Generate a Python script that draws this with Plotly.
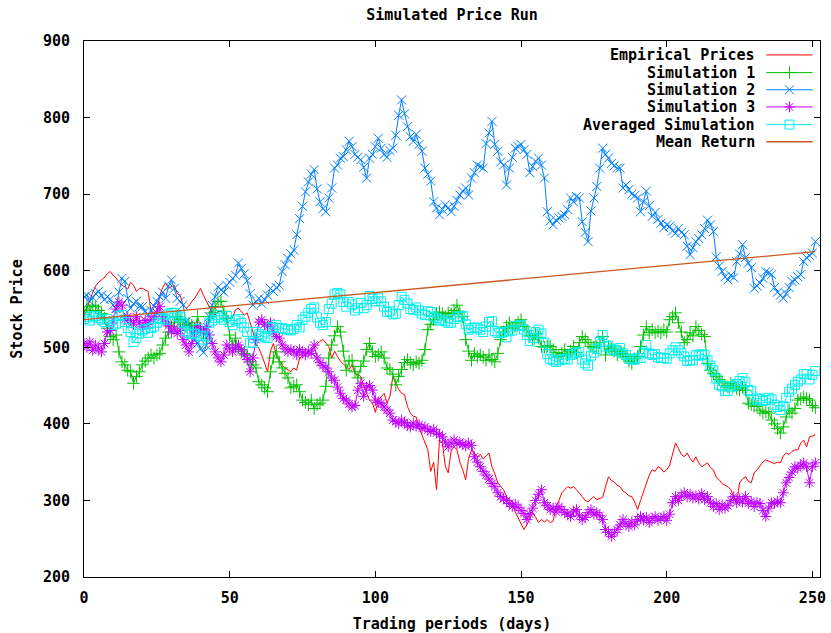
import plotly.graph_objects as go

days = list(range(252))

empirical = [540,551,560,572,580,585,588,591,596,599,594,591,585,581,579,576,585,581,573,577,
577,575,573,547,545,547,568,578,584,577,579,581,570,568,555,551,554,560,564,570,
577,568,560,551,545,542,547,547,544,542,538,540,549,551,546,542,545,533,520,503,
499,490,478,468,495,505,490,483,477,473,471,468,473,470,486,488,490,495,497,499,
504,508,510,505,501,486,495,488,482,478,475,471,477,466,464,462,449,440,431,427,
415,431,436,440,427,436,462,453,445,440,438,423,414,410,409,395,385,375,366,338,
350,314,379,375,345,336,365,370,366,350,340,327,355,366,362,357,360,354,358,362,
344,335,323,318,314,305,301,297,285,278,270,262,268,275,284,278,271,275,272,275,
271,273,292,300,310,314,318,316,318,314,310,305,300,298,302,305,301,303,304,318,
331,326,324,320,318,312,310,306,305,298,288,300,312,324,333,340,338,344,342,337,
340,346,360,375,368,360,357,362,355,350,357,349,344,346,349,343,340,330,327,322,
320,318,314,305,297,323,328,331,325,323,336,340,345,350,353,351,349,348,350,349,
358,362,360,364,366,366,375,379,370,383,384,386]

sim1 = [545,553,548,555,553,548,544,538,525,514,510,516,494,481,477,470,468,453,462,468,
477,482,486,490,486,490,492,503,512,520,527,532,540,536,530,527,532,529,525,540,
525,518,512,540,545,553,560,560,547,538,516,503,512,499,495,492,490,481,477,473,
455,451,447,442,468,486,494,481,473,466,460,447,449,451,442,431,428,425,431,420,
425,427,431,449,486,503,515,527,520,495,470,482,483,468,460,475,482,497,505,494,
488,490,494,486,473,471,465,451,462,471,480,484,480,477,481,479,483,497,523,530,
536,544,546,544,540,545,544,548,555,546,540,510,495,483,492,488,490,487,483,490,
484,481,492,510,520,527,532,525,528,532,536,527,522,515,510,518,513,501,500,502,
501,497,493,488,492,497,490,495,501,493,506,514,510,506,501,500,501,506,514,490,
501,498,495,490,495,492,488,482,479,485,488,501,516,527,519,523,519,521,519,523,
520,536,540,545,532,520,506,510,519,515,527,522,517,514,479,470,466,462,458,455,
450,448,453,450,446,444,448,444,427,425,423,423,418,414,416,414,405,400,394,388,
396,409,418,414,420,431,433,435,433,431,424,421]

sim2 = [566,568,560,565,570,573,568,562,566,563,555,551,572,590,586,564,551,557,560,553,
553,547,542,548,554,560,566,572,564,580,588,577,564,560,555,533,529,518,510,505,
498,493,502,540,555,566,579,575,572,581,585,590,594,610,603,596,587,570,555,560,
564,557,562,568,577,573,578,581,599,608,616,622,627,647,668,684,703,716,726,732,
707,690,681,677,695,708,734,738,747,749,758,769,762,752,748,745,735,721,747,752,
762,773,760,752,748,757,760,777,803,823,805,788,775,769,778,765,756,734,726,717,
690,682,673,680,686,682,677,684,692,699,704,708,699,721,728,738,736,734,766,780,
795,765,756,742,738,712,734,748,760,762,765,758,752,728,736,743,747,738,721,677,
665,660,666,669,671,673,680,695,690,697,695,664,650,638,678,695,710,734,760,752,
747,740,737,734,734,708,712,706,700,698,695,677,690,704,685,671,676,667,662,656,
660,658,652,649,655,650,647,632,621,630,638,642,647,655,666,660,651,618,606,599,
592,588,594,591,612,622,634,617,610,604,577,580,584,590,599,597,595,578,572,568,
564,570,578,586,588,592,595,612,617,620,623,638]

sim3 = [505,500,507,496,503,498,494,505,520,522,535,550,559,555,536,540,535,530,540,532,
527,535,530,536,540,545,553,540,533,528,520,525,518,522,510,503,494,505,520,527,
523,520,527,516,505,494,486,481,490,503,498,494,500,503,497,490,484,468,486,510,
533,536,530,527,532,520,514,512,503,498,494,497,495,490,497,493,490,495,492,503,
486,480,476,473,468,460,457,448,440,433,431,426,422,424,444,453,436,448,450,444,
431,428,427,422,418,414,405,403,400,405,402,398,396,401,397,399,394,396,392,390,
393,388,386,383,376,370,375,379,374,376,373,371,375,372,357,350,344,338,333,328,
322,318,310,305,302,300,296,292,295,291,287,283,275,282,290,300,308,314,297,293,
288,290,285,292,288,284,282,279,286,288,280,275,278,284,288,282,284,280,275,262,
258,253,258,262,268,275,270,266,272,268,275,279,274,278,271,276,279,274,277,279,
274,282,297,305,300,306,310,305,308,303,306,302,309,301,305,297,292,296,288,294,
290,293,300,305,297,302,298,305,296,299,292,297,296,287,279,290,297,296,299,297,
310,323,330,337,344,342,346,349,344,323,344,349]

averaged = [537,540,535,539,541,538,536,533,537,533,529,531,541,542,533,525,520,507,512,518,
522,524,519,525,527,532,537,538,536,543,545,545,541,539,532,521,518,517,518,524,
515,510,514,532,535,538,542,539,536,541,533,529,535,537,532,526,520,506,506,520,
517,515,513,512,526,526,529,525,525,524,523,522,524,529,526,536,540,545,550,552,
539,532,529,533,550,557,569,571,569,559,553,559,556,548,551,558,551,555,567,563,
560,564,560,553,546,547,543,544,555,566,562,557,550,549,552,548,544,542,547,546,
540,538,535,536,534,532,532,537,540,540,541,530,523,525,526,525,523,520,527,533,
534,521,519,519,520,513,521,522,528,528,529,523,516,508,512,520,523,518,506,491,
485,483,481,483,484,485,484,490,492,493,494,484,479,476,489,493,498,507,516,501,
502,497,497,495,499,492,490,485,484,484,486,486,493,503,492,490,491,487,486,486,
485,492,496,500,496,492,488,482,483,483,490,489,491,490,483,476,470,459,451,449,
443,443,449,449,452,456,460,455,444,443,431,433,433,430,431,434,432,425,422,418,
423,434,442,446,451,455,458,465,465,458,464,469]

mean_days = [0, 251]
mean_return = [536, 625]

names = ["Empirical Prices", "Simulation 1", "Simulation 2", "Simulation 3",
         "Averaged Simulation", "Mean Return"]
colors = ["#ff0000", "#00c000", "#0080ff", "#c000ff", "#00eeee", "#c8581e"]
symbols = [None, "cross-thin-open", "x-thin-open", "asterisk-open", "square-open", None]

FONT = "DejaVu Sans Mono"

fig = go.Figure()

series = [(days, empirical), (days, sim1), (days, sim2), (days, sim3),
          (days, averaged), (mean_days, mean_return)]
for i, (xs, ys) in enumerate(series):
    if symbols[i] is None:
        fig.add_trace(go.Scatter(x=xs, y=ys, mode="lines", name=names[i],
                                 line=dict(color=colors[i], width=1.3 if i == 5 else 1),
                                 showlegend=False))
    else:
        fig.add_trace(go.Scatter(x=xs, y=ys, mode="lines+markers", name=names[i],
                                 line=dict(color=colors[i], width=1),
                                 marker=dict(symbol=symbols[i], size=9,
                                             color=colors[i],
                                             line=dict(color=colors[i], width=1)),
                                 showlegend=False))

# manual gnuplot-style legend (text left, sample right)
rows = [0.974, 0.941, 0.909, 0.877, 0.844, 0.812]
for i, nm in enumerate(names):
    fig.add_annotation(x=0.915, y=rows[i], xref="paper", yref="paper", text=nm,
                       showarrow=False, xanchor="right", yanchor="middle",
                       font=dict(family=FONT, size=15, color="black", weight="bold"))
    fig.add_trace(go.Scatter(x=[0.927, 0.99], y=[rows[i], rows[i]], mode="lines",
                             line=dict(color=colors[i], width=1.3 if i == 5 else 1),
                             xaxis="x2", yaxis="y2",
                             showlegend=False, hoverinfo="skip"))
    if symbols[i] is not None:
        fig.add_trace(go.Scatter(x=[0.9585], y=[rows[i]], mode="markers",
                                 marker=dict(symbol=symbols[i], size=9, color=colors[i],
                                             line=dict(color=colors[i], width=1)),
                                 xaxis="x2", yaxis="y2", showlegend=False, hoverinfo="skip"))

axis_common = dict(showline=True, linecolor="black", linewidth=1, mirror="ticks",
                   ticks="inside", ticklen=6, tickcolor="black", showgrid=False,
                   zeroline=False, automargin=False,
                   tickfont=dict(family=FONT, size=15, color="black", weight="bold"))

fig.update_layout(
    width=831, height=633,
    margin=dict(l=84, r=11, t=41, b=56),
    paper_bgcolor="white", plot_bgcolor="white",
    title=dict(text="Simulated Price Run", x=0.5, xref="paper", y=0.976, yanchor="middle",
               font=dict(family=FONT, size=15, color="black", weight="bold")),
    xaxis=dict(range=[0, 252.6], tickvals=[0, 50, 100, 150, 200, 250],
               ticklabelstandoff=7,
               title=dict(text="Trading periods (days)", standoff=12,
                          font=dict(family=FONT, size=15, color="black", weight="bold")),
               **axis_common),
    yaxis=dict(range=[200, 900], tickvals=[200, 300, 400, 500, 600, 700, 800, 900],
               ticklabelstandoff=10,
               title=dict(text="Stock Price", standoff=16,
                          font=dict(family=FONT, size=15, color="black", weight="bold")),
               **axis_common),
    xaxis2=dict(overlaying="x", range=[0, 1], visible=False),
    yaxis2=dict(overlaying="y", range=[0, 1], visible=False),
    showlegend=False,
)

fig.write_html("out.html")
